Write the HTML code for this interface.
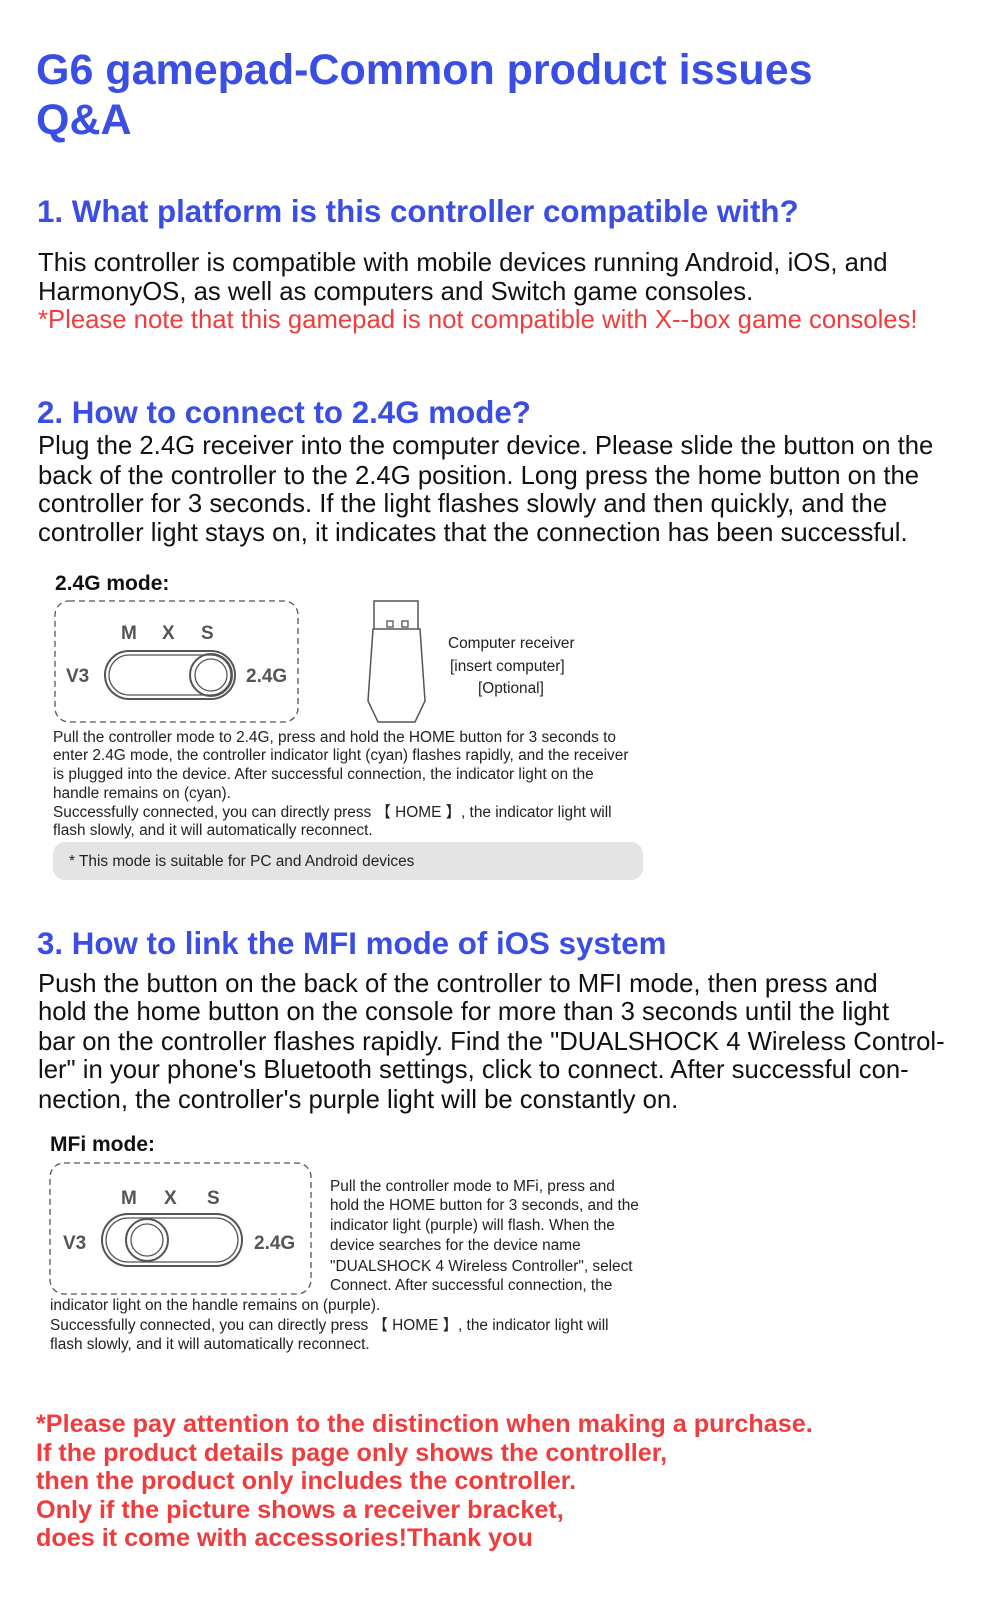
<!DOCTYPE html>
<html><head><meta charset="utf-8"><style>
body{margin:0;background:#fff;}
#p{position:relative;width:1000px;height:1610px;overflow:hidden;font-family:"Liberation Sans",sans-serif;color:#111;}
.l{position:absolute;white-space:nowrap;}
.h1{font-weight:bold;font-size:43px;color:#3b4ee3;line-height:50px;left:36px;}
.h2{font-weight:bold;font-size:31.3px;color:#3b4ee3;line-height:36px;left:37px;}
.b{font-size:25.7px;line-height:29px;left:38px;}
.r{color:#f03c3c;}
.s{font-size:15.4px;line-height:19px;color:#222;}
.rb{font-weight:bold;font-size:25.2px;line-height:29px;color:#f03c3c;left:36px;}
.m{font-weight:bold;font-size:21px;line-height:26px;}
</style></head><body><div id="p">
<div class="l h1" style="top:45px">G6 gamepad-Common product issues</div>
<div class="l h1" style="top:95px">Q&amp;A</div>
<div class="l h2" style="top:194px">1. What platform is this controller compatible with?</div>
<div class="l b" style="top:249px">This controller is compatible with mobile devices running Android, iOS, and</div>
<div class="l b" style="top:278px">HarmonyOS, as well as computers and Switch game consoles.</div>
<div class="l b r" style="top:306px">*Please note that this gamepad is not compatible with X--box game consoles!</div>
<div class="l h2" style="top:395px">2. How to connect to 2.4G mode?</div>
<div class="l b" style="top:432px">Plug the 2.4G receiver into the computer device. Please slide the button on the</div>
<div class="l b" style="top:462px">back of the controller to the 2.4G position. Long press the home button on the</div>
<div class="l b" style="top:490px">controller for 3 seconds. If the light flashes slowly and then quickly, and the</div>
<div class="l b" style="top:519px">controller light stays on, it indicates that the connection has been successful.</div>
<div class="l m" style="top:571px;left:55px">2.4G mode:</div>
<svg class="l" style="left:0;top:0" width="1000" height="1610">
<g transform="translate(0,-9)">
<g fill="none" stroke="#555" stroke-width="1.3">
<rect x="55" y="610" width="243" height="121" rx="14" stroke-dasharray="6,4"/>
<rect x="105" y="660" width="130" height="48" rx="24" stroke-width="2"/>
<rect x="109" y="664" width="122" height="40" rx="20"/>
<circle cx="211" cy="684" r="21" stroke-width="2"/><circle cx="211" cy="684" r="16"/>
<path d="M374 610 h44 v28 h-44 z M373 638 h47 l5 72 l-10 21 h-37 l-10 -21 z" stroke-width="1.5"/>
<rect x="387" y="630" width="6" height="6"/><rect x="402" y="630" width="6" height="6"/>
</g>
<g font-family="Liberation Sans" font-weight="bold" font-size="19" fill="#555">
<text x="121" y="648">M</text><text x="162" y="648">X</text><text x="201" y="648">S</text>
<text x="66" y="691">V3</text><text x="246" y="691">2.4G</text>
</g></g>
<g transform="translate(0,-18)">
<g fill="none" stroke="#555" stroke-width="1.3">
<rect x="50" y="1181" width="261" height="131" rx="14" stroke-dasharray="6,4"/>
<rect x="102" y="1232" width="140" height="52" rx="26" stroke-width="2"/>
<rect x="106" y="1236" width="132" height="44" rx="22"/>
<circle cx="147" cy="1258" r="21" stroke-width="2"/><circle cx="147" cy="1258" r="16"/>
</g>
<g font-family="Liberation Sans" font-weight="bold" font-size="19" fill="#555">
<text x="121" y="1222">M</text><text x="164" y="1222">X</text><text x="207" y="1222">S</text>
<text x="63" y="1267">V3</text><text x="254" y="1267">2.4G</text>
</g></g>
</svg>
<div class="l s" style="top:634px;left:448px">Computer receiver</div>
<div class="l s" style="top:657px;left:450px">[insert computer]</div>
<div class="l s" style="top:679px;left:478px">[Optional]</div>
<div class="l s" style="top:728px;left:53px">Pull the controller mode to 2.4G, press and hold the HOME button for 3 seconds to</div>
<div class="l s" style="top:746px;left:53px">enter 2.4G mode, the controller indicator light (cyan) flashes rapidly, and the receiver</div>
<div class="l s" style="top:765px;left:53px">is plugged into the device. After successful connection, the indicator light on the</div>
<div class="l s" style="top:784px;left:53px">handle remains on (cyan).</div>
<div class="l s" style="top:803px;left:53px">Successfully connected, you can directly press 【 HOME 】, the indicator light will</div>
<div class="l s" style="top:821px;left:53px">flash slowly, and it will automatically reconnect.</div>
<div class="l" style="top:842px;left:53px;width:590px;height:38px;background:#e4e4e4;border-radius:12px"></div>
<div class="l s" style="top:852px;left:69px">* This mode is suitable for PC and Android devices</div>
<div class="l h2" style="top:926px">3. How to link the MFI mode of iOS system</div>
<div class="l b" style="top:970px">Push the button on the back of the controller to MFI mode, then press and</div>
<div class="l b" style="top:998px">hold the home button on the console for more than 3 seconds until the light</div>
<div class="l b" style="top:1028px">bar on the controller flashes rapidly. Find the "DUALSHOCK 4 Wireless Control-</div>
<div class="l b" style="top:1056px">ler" in your phone's Bluetooth settings, click to connect. After successful con-</div>
<div class="l b" style="top:1086px">nection, the controller's purple light will be constantly on.</div>
<div class="l m" style="top:1132px;left:50px">MFi mode:</div>
<div class="l s" style="top:1177px;left:330px">Pull the controller mode to MFi, press and</div>
<div class="l s" style="top:1196px;left:330px">hold the HOME button for 3 seconds, and the</div>
<div class="l s" style="top:1216px;left:330px">indicator light (purple) will flash. When the</div>
<div class="l s" style="top:1236px;left:330px">device searches for the device name</div>
<div class="l s" style="top:1257px;left:330px">"DUALSHOCK 4 Wireless Controller", select</div>
<div class="l s" style="top:1276px;left:330px">Connect. After successful connection, the</div>
<div class="l s" style="top:1296px;left:50px">indicator light on the handle remains on (purple).</div>
<div class="l s" style="top:1316px;left:50px">Successfully connected, you can directly press 【 HOME 】, the indicator light will</div>
<div class="l s" style="top:1335px;left:50px">flash slowly, and it will automatically reconnect.</div>
<div class="l rb" style="top:1410px">*Please pay attention to the distinction when making a purchase.</div>
<div class="l rb" style="top:1439px">If the product details page only shows the controller,</div>
<div class="l rb" style="top:1467px">then the product only includes the controller.</div>
<div class="l rb" style="top:1496px">Only if the picture shows a receiver bracket,</div>
<div class="l rb" style="top:1524px">does it come with accessories!Thank you</div>
</div></body></html>
